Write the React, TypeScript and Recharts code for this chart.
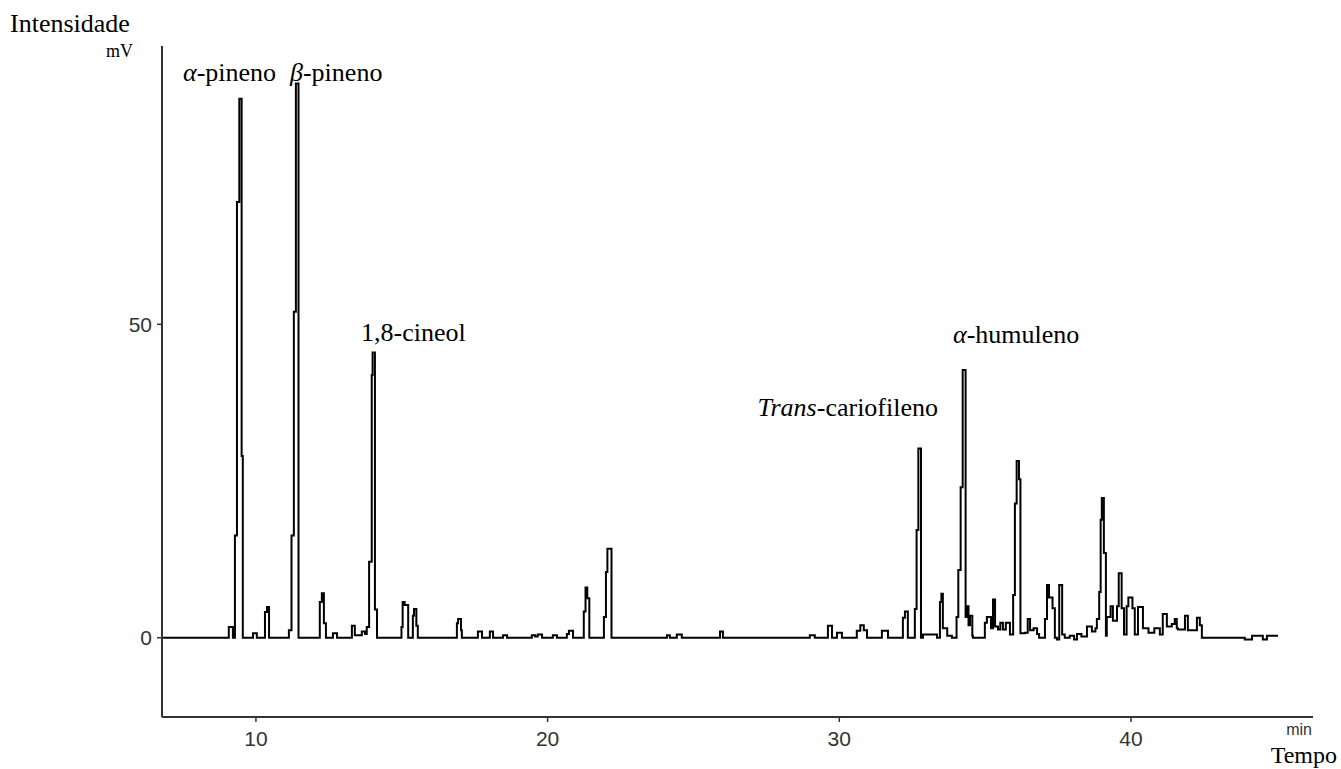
import { LineChart, Line, XAxis, YAxis } from "recharts";

// Cromatograma: [tempo (min), intensidade (mV)], cada nível vale até o ponto seguinte
const monoterpenos: [number, number][] = [
  [6.78, 0], [9.07, 1.7], [9.21, 0], [9.28, 16.3], [9.35, 69.5], [9.43, 86], [9.51, 29], [9.55, 0],
  [9.9, 0.7], [10.03, 0], [10.31, 4.1], [10.38, 4.9], [10.45, 0],
  [11.13, 1.2], [11.22, 16.3], [11.3, 52], [11.37, 88.4], [11.46, 0],
  [12.19, 5.7], [12.26, 7.1], [12.33, 2.3], [12.4, 0], [12.64, 0.7], [12.78, 0],
  [13.29, 1.9], [13.39, 0.4], [13.63, 1.0], [13.74, 0.6], [13.8, 1.7],
  [13.88, 12.1], [13.97, 41.9], [14.0, 45.5], [14.08, 4.5], [14.15, 0],
  [14.99, 1.7], [15.03, 5.7], [15.1, 5.2], [15.22, 0],
  [15.38, 3.5], [15.42, 4.6], [15.5, 1.9], [15.55, 0],
];

const intermediarios: [number, number][] = [
  [16.89, 2.3], [16.93, 3.0], [17.03, 1.2], [17.06, 0],
  [17.61, 1.0], [17.75, 0], [18.02, 1.0], [18.13, 0], [18.47, 0.4], [18.61, 0],
  [19.46, 0.4], [19.57, 0.2], [19.66, 0.5], [19.81, 0], [20.18, 0.4], [20.32, 0],
  [20.66, 0.6], [20.73, 1.1], [20.87, 0],
  [21.24, 4.2], [21.3, 8.0], [21.36, 6.3], [21.43, 0],
  [21.93, 3.3], [22.0, 10.5], [22.05, 14.2], [22.19, 0],
  [24.09, 0.4], [24.19, 0], [24.43, 0.5], [24.6, 0], [25.91, 1.0], [26.01, 0],
  [28.99, 0.4], [29.16, 0], [29.61, 1.9], [29.75, 0], [29.92, 0.8], [30.09, 0],
  [30.6, 1.1], [30.72, 2.0], [30.84, 1.2], [30.95, 0], [31.46, 1.1], [31.67, 0],
];

const sesquiterpenos: [number, number][] = [
  [32.18, 3.2], [32.25, 4.2], [32.35, 0],
  [32.59, 4.6], [32.65, 17.2], [32.71, 30.2], [32.8, 0], [32.87, 0.5], [33.35, 0],
  [33.45, 5.7], [33.5, 7.0], [33.55, 1.5], [33.7, 0.3], [33.86, 0],
  [34.02, 3.3], [34.08, 10.8], [34.16, 24.0], [34.23, 42.7], [34.33, 3.3],
  [34.38, 5.0], [34.43, 2.0], [34.48, 3.5], [34.56, 0.3], [34.58, 0],
  [34.99, 2.4], [35.06, 3.3], [35.2, 1.5], [35.27, 6.1], [35.34, 1.8], [35.44, 1.3],
  [35.52, 2.4], [35.61, 1.3], [35.71, 2.4], [35.85, 0.5],
  [35.96, 6.8], [36.02, 21.4], [36.08, 28.2], [36.16, 25.3], [36.21, 0.7],
  [36.36, 0.8], [36.46, 3.0], [36.54, 1.2], [36.66, 1.5], [36.78, 0.6], [36.85, 0],
  [37.05, 3.0], [37.12, 8.4], [37.19, 6.4], [37.31, 4.7], [37.39, 0], [37.46, -0.3],
  [37.54, 8.4], [37.64, 0.5], [37.73, 0],
  [37.9, 0.3], [38.05, -0.3], [38.15, 0.6], [38.3, 0.2], [38.49, 1.8], [38.66, 1.0], [38.78, 1.5],
  [38.83, 3.0], [38.91, 7.3], [38.96, 18.8], [39.0, 22.3], [39.07, 13.5], [39.14, 0.3],
  [39.17, 3.3], [39.3, 5.0], [39.38, 2.7], [39.52, 5.0], [39.58, 10.3], [39.68, 4.7], [39.76, 0.5],
  [39.85, 5.0], [39.91, 6.4], [40.05, 4.7], [40.13, 0.5],
  [40.24, 4.9], [40.41, 1.5], [40.6, 0.8], [40.8, 1.5], [40.99, 0.5],
  [41.09, 3.8], [41.23, 1.8], [41.4, 2.2], [41.5, 3.0], [41.57, 1.5], [41.61, 1.3],
  [41.85, 3.5], [41.95, 1.2], [42.26, 3.2], [42.36, 2.0], [42.43, 0],
  [43.9, -0.3], [44.15, 0.3], [44.52, -0.3], [44.66, 0.3], [45.04, 0.3],
];

const xTicks = [10, 20, 30, 40];
const yTicks = [0, 50];

const data = [...monoterpenos, ...intermediarios, ...sesquiterpenos].map(([t, v]) => ({ t, v }));

const axisColor = "#333";
const tickFont = { fontSize: 21, fontFamily: "Liberation Sans", fill: "#333" };
const serif = "Liberation Serif";

export default function App() {
  return (
    <div style={{ position: "absolute", left: 0, top: 0, width: 1341, height: 769, background: "#fff" }}>
      <LineChart width={1341} height={769} data={data} margin={{ top: 46, right: 28, bottom: 22, left: 102 }}>
        <XAxis
          dataKey="t"
          type="number"
          domain={[6.78, 46.24]}
          ticks={xTicks}
          allowDataOverflow
          height={30}
          tickSize={5}
          tickMargin={9}
          tick={tickFont}
          axisLine={{ stroke: axisColor, strokeWidth: 2 }}
          tickLine={{ stroke: axisColor, strokeWidth: 1.5 }}
        />
        <YAxis
          type="number"
          domain={[-12.65, 94.4]}
          ticks={yTicks}
          allowDataOverflow
          width={60}
          tickSize={5}
          tickMargin={5}
          tick={tickFont}
          axisLine={{ stroke: axisColor, strokeWidth: 2 }}
          tickLine={{ stroke: axisColor, strokeWidth: 1.5 }}
        />
        <Line
          dataKey="v"
          type="stepAfter"
          stroke="#000"
          strokeWidth={2}
          dot={false}
          isAnimationActive={false}
        />
      </LineChart>
      <svg
        width={1341}
        height={769}
        style={{ position: "absolute", left: 0, top: 0, pointerEvents: "none" }}
      >
        <g fontFamily={serif} fontSize={26} fill="#000">
          <text x={10} y={32}>Intensidade</text>
          <text x={1337} y={763} fontSize={24} textAnchor="end">Tempo</text>
          <text x={183} y={81}>
            <tspan fontStyle="italic">α</tspan>-pineno
          </text>
          <text x={290} y={81}>
            <tspan fontStyle="italic">β</tspan>-pineno
          </text>
          <text x={361} y={341}>1,8-cineol</text>
          <text x={938} y={416} textAnchor="end">
            <tspan fontStyle="italic">Trans</tspan>-cariofileno
          </text>
          <text x={953} y={343}>
            <tspan fontStyle="italic">α</tspan>-humuleno
          </text>
        </g>
        <text x={133} y={57} textAnchor="end" fontFamily={serif} fontSize={18} fill="#000">mV</text>
        <text x={1312} y={735} textAnchor="end" fontFamily="Liberation Sans" fontSize={16} fill="#333">min</text>
      </svg>
    </div>
  );
}
